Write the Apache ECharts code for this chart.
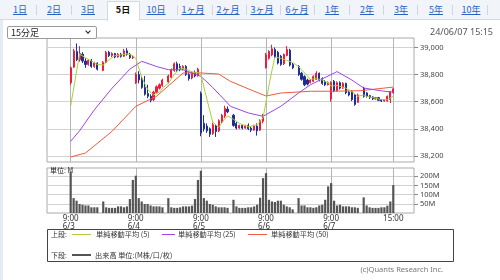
<!DOCTYPE html>
<html><head><meta charset="utf-8">
<script src="https://cdn.jsdelivr.net/npm/echarts@6/dist/echarts.min.js"></script>
<style>
html,body{margin:0;padding:0;background:#fff;width:500px;height:280px;overflow:hidden;font-family:'Noto Sans CJK JP','Noto Sans',sans-serif;}
#chart{position:absolute;left:0;top:0;width:500px;height:280px;}
#strip{position:absolute;left:0;top:0;width:3px;height:280px;background:#e4ebf5;}
#tabs{position:absolute;left:0;top:0;width:500px;height:20px;background:#f1f4f9;border-bottom:1px solid #d3d9e4;box-sizing:border-box;}
.tab{position:absolute;top:3px;font-size:9px;line-height:13px;color:#2a62c4;text-decoration:underline;transform:translateX(-50%);white-space:nowrap;}
.sep{position:absolute;top:5px;width:1px;height:10px;background:#d0d6e0;}
#active{position:absolute;left:107px;top:1px;width:33px;height:20px;background:#fff;border:1px solid #d3d9e4;border-bottom:none;box-sizing:border-box;}
.tab.on{color:#111;font-weight:bold;text-decoration:none;}
#sel{position:absolute;left:7px;top:26px;width:90px;height:13px;border:1px solid #9a9a9a;border-radius:2px;box-sizing:border-box;font-size:9px;line-height:11px;padding-left:3px;color:#222;background:#fff;}
#chev{position:absolute;right:6px;top:2px;width:3px;height:3px;border-right:1.5px solid #222;border-bottom:1.5px solid #222;transform:rotate(45deg);}
#date{position:absolute;right:7px;top:25px;font-size:9px;color:#555;font-family:'Noto Sans','Noto Sans CJK JP',sans-serif;}
</style></head>
<body>
<div id="chart"></div>
<div id="strip"></div>
<div id="tabs"></div>
<div id="sel">15分足<div id="chev"></div></div>
<div id="date">24/06/07 15:15</div>
<script>
// ---- tabs ----
const tabLabels = ['1日','2日','3日','5日','10日','1ヶ月','2ヶ月','3ヶ月','6ヶ月','1年','2年','3年','5年','10年'];
const tabCenters = [20,54,88,123,156,193,228,262,297,332,367,401,436,471];
const tabSeps = [36,71,106,141,177,212,246,280,314,349,383,417,452,487];
(function(){
  const t = document.getElementById('tabs');
  let h = '<div id="active"></div>';
  tabSeps.forEach((x,i)=>{ if(i!==2 && i!==3) h += '<div class="sep" style="left:'+x+'px"></div>'; });
  tabLabels.forEach((s,i)=>{ h += '<div class="tab'+(i===3?' on':'')+'" style="left:'+tabCenters[i]+'px">'+s+'</div>'; });
  t.innerHTML = h;
})();

// ---- data ----
const days = ['6/3','6/4','6/5','6/6','6/7'];
const sessionTimes = ['9:00','9:15','9:30','9:45','10:00','10:15','10:30','10:45','11:00','11:15','',
  '12:30','12:45','13:00','13:15','13:30','13:45','14:00','14:15','14:30','14:45','15:00'];
const priceTicks = [38200,38400,38600,38800,39000];
const volumeTicks = [50,100,150,200];

// [open, close, low, high]
const candles0603 = [[38740,38850,38725,38860],[38855,38975,38850,38990],[38970,38910,38900,39030],[38910,38955,38895,39010],
 [38950,38900,38885,38965],[38900,38875,38850,38920],[38875,38905,38865,38915],[38905,38860,38850,38915],[38860,38885,38850,38895],
 [38885,38840,38830,38890],null,[38830,38890,38825,38900],[38890,38965,38885,38975],[38965,38940,38930,38975],[38940,38955,38930,38965],
 [38955,38930,38920,38960],[38930,38950,38925,38960],[38950,38935,38925,38960],[38935,38975,38930,38990],[38975,38950,38940,38995],
 [38950,38925,38915,38960],[38925,38930,38915,38940]];
const candles0604 = [[38740,38800,38730,38815],[38800,38760,38735,38825],[38770,38705,38695,38790],[38705,38655,38645,38790],
 [38660,38640,38625,38725],[38640,38610,38595,38655],[38615,38670,38605,38680],[38670,38710,38660,38720],[38700,38725,38690,38735],
 [38720,38760,38710,38770],null,[38745,38790,38735,38800],[38780,38835,38775,38845],[38830,38880,38820,38890],[38880,38830,38820,38895],
 [38860,38840,38825,38880],[38840,38860,38830,38870],[38860,38800,38790,38870],[38800,38770,38755,38815],[38775,38815,38765,38825],
 [38815,38790,38780,38830],[38790,38840,38785,38850]];
const candles0605 = [[38660,38370,38345,38675],[38440,38400,38380,38500],[38420,38385,38370,38440],[38400,38360,38340,38410],
 [38365,38430,38355,38445],[38425,38380,38340,38435],[38385,38460,38375,38470],[38455,38500,38440,38510],[38495,38550,38480,38570],
 [38545,38525,38515,38565],null,[38500,38425,38415,38510],[38440,38405,38395,38450],[38405,38425,38400,38430],[38425,38405,38395,38430],
 [38405,38420,38400,38430],[38425,38400,38390,38440],[38405,38390,38375,38415],[38390,38420,38385,38430],[38420,38385,38350,38440],
 [38390,38460,38385,38470],[38455,38500,38440,38510]];
const candles0606 = [[38850,38945,38845,38960],[38920,38970,38910,38980],[38945,38990,38935,39020],[38985,38930,38920,39000],
 [38965,38885,38875,38975],[38935,38875,38865,38945],[38880,38950,38870,38955],[38940,38985,38935,39010],[38980,38870,38860,38990],
 [38875,38850,38840,38885],null,[38860,38800,38790,38870],[38810,38765,38755,38820],[38785,38725,38715,38795],[38760,38730,38720,38770],
 [38740,38760,38735,38765],[38750,38785,38745,38795],[38765,38810,38760,38825],[38810,38760,38750,38815],[38770,38735,38725,38780],
 [38750,38725,38715,38760],[38725,38740,38720,38750]];
const candles0607 = [[38620,38740,38600,38750],[38750,38680,38670,38760],[38680,38740,38675,38750],[38740,38700,38690,38750],
 [38700,38735,38695,38745],[38735,38665,38655,38740],[38670,38650,38640,38680],[38675,38615,38605,38685],[38650,38580,38570,38655],
 [38595,38650,38590,38660],null,[38700,38640,38630,38710],[38665,38640,38630,38670],[38645,38630,38620,38650],[38635,38620,38612,38640],
 [38620,38630,38615,38635],[38630,38610,38605,38635],[38615,38605,38598,38620],[38605,38615,38600,38620],[38605,38640,38600,38645],
 [38615,38675,38590,38680],[38665,38695,38660,38700]];

// volume (M)
const vol0603 = [226,81,67,49,45,41,41,31,31,31,null,63,31,28,28,28,36,36,31,36,76,180];
const vol0604 = [203,81,63,49,49,41,36,36,36,31,null,81,31,28,28,31,36,36,36,40,76,180];
const vol0605 = [230,81,67,49,45,36,31,31,31,28,null,72,36,28,28,28,31,31,36,45,83,190];
const vol0606 = [217,72,63,60,67,67,45,36,31,20,null,81,41,41,31,31,28,31,41,45,72,145];
const vol0607 = [163,67,41,45,36,36,36,31,31,28,null,85,41,31,28,28,28,31,31,40,63,152];

// moving averages read at slots [slotIndex, value]
const ma5 = [[0,38570],[3,38950],[5,38925],[7,38900],[9,38875],[11,38870],[13,38910],[15,38940],[17,38945],[19,38955],[21,38940],
 [22,38920],[24,38780],[26,38690],[28,38650],[30,38670],[31,38700],[33,38735],[35,38800],[37,38850],[39,38840],[41,38820],[43,38815],
 [44,38800],[46,38620],[48,38450],[50,38410],[52,38470],[53,38495],[55,38470],[57,38440],[60,38415],[63,38430],[65,38480],
 [66,38600],[67,38720],[68,38830],[69,38930],[71,38920],[73,38905],[75,38890],[77,38860],[78,38835],[80,38790],[81,38765],[83,38770],
 [85,38760],[87,38740],[88,38715],[90,38720],[93,38700],[95,38675],[97,38640],[99,38650],[100,38640],[103,38625],[105,38615],[107,38615],[109,38640]];
const ma25 = [[0,38308],[3,38385],[8,38540],[14,38700],[20,38840],[24,38898],[29,38860],[33,38836],[38,38836],[44,38787],[48,38705],
 [54,38566],[60,38517],[65,38492],[71,38566],[77,38664],[81,38725],[90,38822],[95,38760],[99,38701],[105,38680],[109,38670]];
const ma50 = [[0,38192],[5,38221],[14,38382],[22,38566],[29,38640],[38,38812],[44,38812],[50,38804],[54,38750],[61,38686],[66,38642],
 [71,38664],[81,38677],[88,38677],[98,38681],[109,38708]];

// ---- build ----
const PAD_L = 8, PAD_R = 7;
const allCandles = [].concat(candles0603,candles0604,candles0605,candles0606,candles0607);
const allVol = [].concat(vol0603,vol0604,vol0605,vol0606,vol0607);
const cats = [], labelMap = {};
for (let i=0;i<PAD_L;i++) cats.push('');
days.forEach((d,di)=>sessionTimes.forEach((t,ti)=>{
  const idx = cats.length;
  if (t==='9:00') labelMap[idx] = '{a|9:00}\n{a|'+d+'}';
  if (di===days.length-1 && ti===sessionTimes.length-1) labelMap[idx] = '15:00';
  cats.push(t ? d+' '+t : '');
}));
for (let i=0;i<PAD_R;i++) cats.push('');
const pad = (arr) => { const r=[]; for(let i=0;i<PAD_L;i++) r.push('-'); arr.forEach(v=>r.push(v==null?'-':v)); for(let i=0;i<PAD_R;i++) r.push('-'); return r; };
const dense = (pts) => { const r = new Array(cats.length).fill(null); pts.forEach(p=>{ r[p[0]+PAD_L]=p[1]; }); return r; };
const showIdx = (i) => labelMap[i] !== undefined;
const fmt = (v) => String(v).replace(/\B(?=(\d{3})+(?!\d))/g, ',');

const chart = echarts.init(document.getElementById('chart'), null, {renderer:'canvas'});
const axisFont = {fontSize:7.5, color:'#444', fontFamily:'Noto Sans, sans-serif'};
const xBase = {
  type:'category', data:cats, boundaryGap:false,
  axisLine:{show:false}, axisTick:{show:false},
  splitLine:{show:true, interval:(i)=>showIdx(i), lineStyle:{color:'#b4b4b4', width:1}}
};
chart.setOption({
  animation:false,
  grid:[
    {left:47, top:38, width:367, height:124, show:true, borderColor:'#aaa', borderWidth:1, backgroundColor:'#fff'},
    {left:47, top:168, width:367, height:45, show:true, borderColor:'#aaa', borderWidth:1, backgroundColor:'#fff'}
  ],
  xAxis:[
    Object.assign({}, xBase, {gridIndex:0, axisLabel:{show:false}}),
    Object.assign({}, xBase, {gridIndex:1, axisLabel:Object.assign({}, axisFont, {
      show:true, interval:(i)=>showIdx(i), margin:1, lineHeight:8.5, fontSize:8, color:'#333',
      formatter:(v,i)=>labelMap[i]||'',
      rich:{a:{width:16, align:'left', fontSize:8, lineHeight:8.5, color:'#333', fontFamily:'Noto Sans, sans-serif'}}
    })})
  ],
  yAxis:[
    {gridIndex:0, type:'value', position:'right', min:38155, max:39070,
     axisLine:{show:false},
     axisTick:{show:true, length:4, lineStyle:{color:'#888'}, customValues:priceTicks},
     axisLabel:Object.assign({}, axisFont, {margin:6, customValues:priceTicks, formatter:fmt}),
     splitLine:{show:true, lineStyle:{color:'#d2d2d2'}}},
    {gridIndex:1, type:'value', position:'right', min:0, max:245,
     axisLine:{show:false},
     axisTick:{show:true, length:4, lineStyle:{color:'#888'}, customValues:volumeTicks},
     axisLabel:Object.assign({}, axisFont, {margin:6, customValues:volumeTicks, formatter:(v)=>v+'M'}),
     splitLine:{show:true, lineStyle:{color:'#d2d2d2'}}}
  ],
  series:[
    {type:'candlestick', xAxisIndex:0, yAxisIndex:0, data:pad(allCandles), barWidth:1.6,
     itemStyle:{color:'#ee1c3c', color0:'#1d2f96', borderColor:'#ee1c3c', borderColor0:'#1d2f96', borderWidth:1}},
    {type:'line', xAxisIndex:0, yAxisIndex:0, data:dense(ma50), connectNulls:true, showSymbol:false, lineStyle:{color:'#f05a3c', width:1}},
    {type:'line', xAxisIndex:0, yAxisIndex:0, data:dense(ma25), connectNulls:true, showSymbol:false, lineStyle:{color:'#a044e6', width:1}},
    {type:'line', xAxisIndex:0, yAxisIndex:0, data:dense(ma5), connectNulls:true, showSymbol:false, lineStyle:{color:'#a9d03c', width:1}},
    {type:'bar', xAxisIndex:1, yAxisIndex:1, data:pad(allVol), barWidth:2.2, itemStyle:{color:'#555'}}
  ],
  graphic:[
    {type:'text', left:50, top:167, style:{text:'単位: M', fontSize:7, fill:'#222', fontFamily:'Noto Sans CJK JP'}},
    {type:'rect', shape:{x:47.5, y:229.5, width:406, height:32}, style:{fill:'none', stroke:'#444', lineWidth:1}},
    {type:'text', x:51, y:234, style:{text:'上段:', fontSize:7, fill:'#333', verticalAlign:'middle', fontFamily:'Noto Sans CJK JP'}},
    {type:'line', shape:{x1:72, y1:234.5, x2:91, y2:234.5}, style:{stroke:'#a9d03c', lineWidth:1}},
    {type:'text', x:96, y:234, style:{text:'単純移動平均 (5)', fontSize:7.2, fill:'#333', verticalAlign:'middle', fontFamily:'Noto Sans CJK JP'}},
    {type:'line', shape:{x1:162, y1:234.5, x2:175, y2:234.5}, style:{stroke:'#a044e6', lineWidth:1}},
    {type:'text', x:178, y:234, style:{text:'単純移動平均 (25)', fontSize:7.2, fill:'#333', verticalAlign:'middle', fontFamily:'Noto Sans CJK JP'}},
    {type:'line', shape:{x1:248, y1:234.5, x2:267, y2:234.5}, style:{stroke:'#f05a3c', lineWidth:1}},
    {type:'text', x:271, y:234, style:{text:'単純移動平均 (50)', fontSize:7.2, fill:'#333', verticalAlign:'middle', fontFamily:'Noto Sans CJK JP'}},
    {type:'text', x:51, y:255, style:{text:'下段:', fontSize:7, fill:'#333', verticalAlign:'middle', fontFamily:'Noto Sans CJK JP'}},
    {type:'line', shape:{x1:72, y1:255, x2:91, y2:255}, style:{stroke:'#555', lineWidth:2}},
    {type:'text', x:95, y:255, style:{text:'出来高 単位:(M株/口/枚)', fontSize:7.2, fill:'#333', verticalAlign:'middle', fontFamily:'Noto Sans CJK JP'}},
    {type:'text', x:443, y:270, style:{text:'(c)Quants Research Inc.', fontSize:7.5, fill:'#777', align:'right', verticalAlign:'middle', fontFamily:'Noto Sans'}}
  ]
});
</script>
</body></html>
